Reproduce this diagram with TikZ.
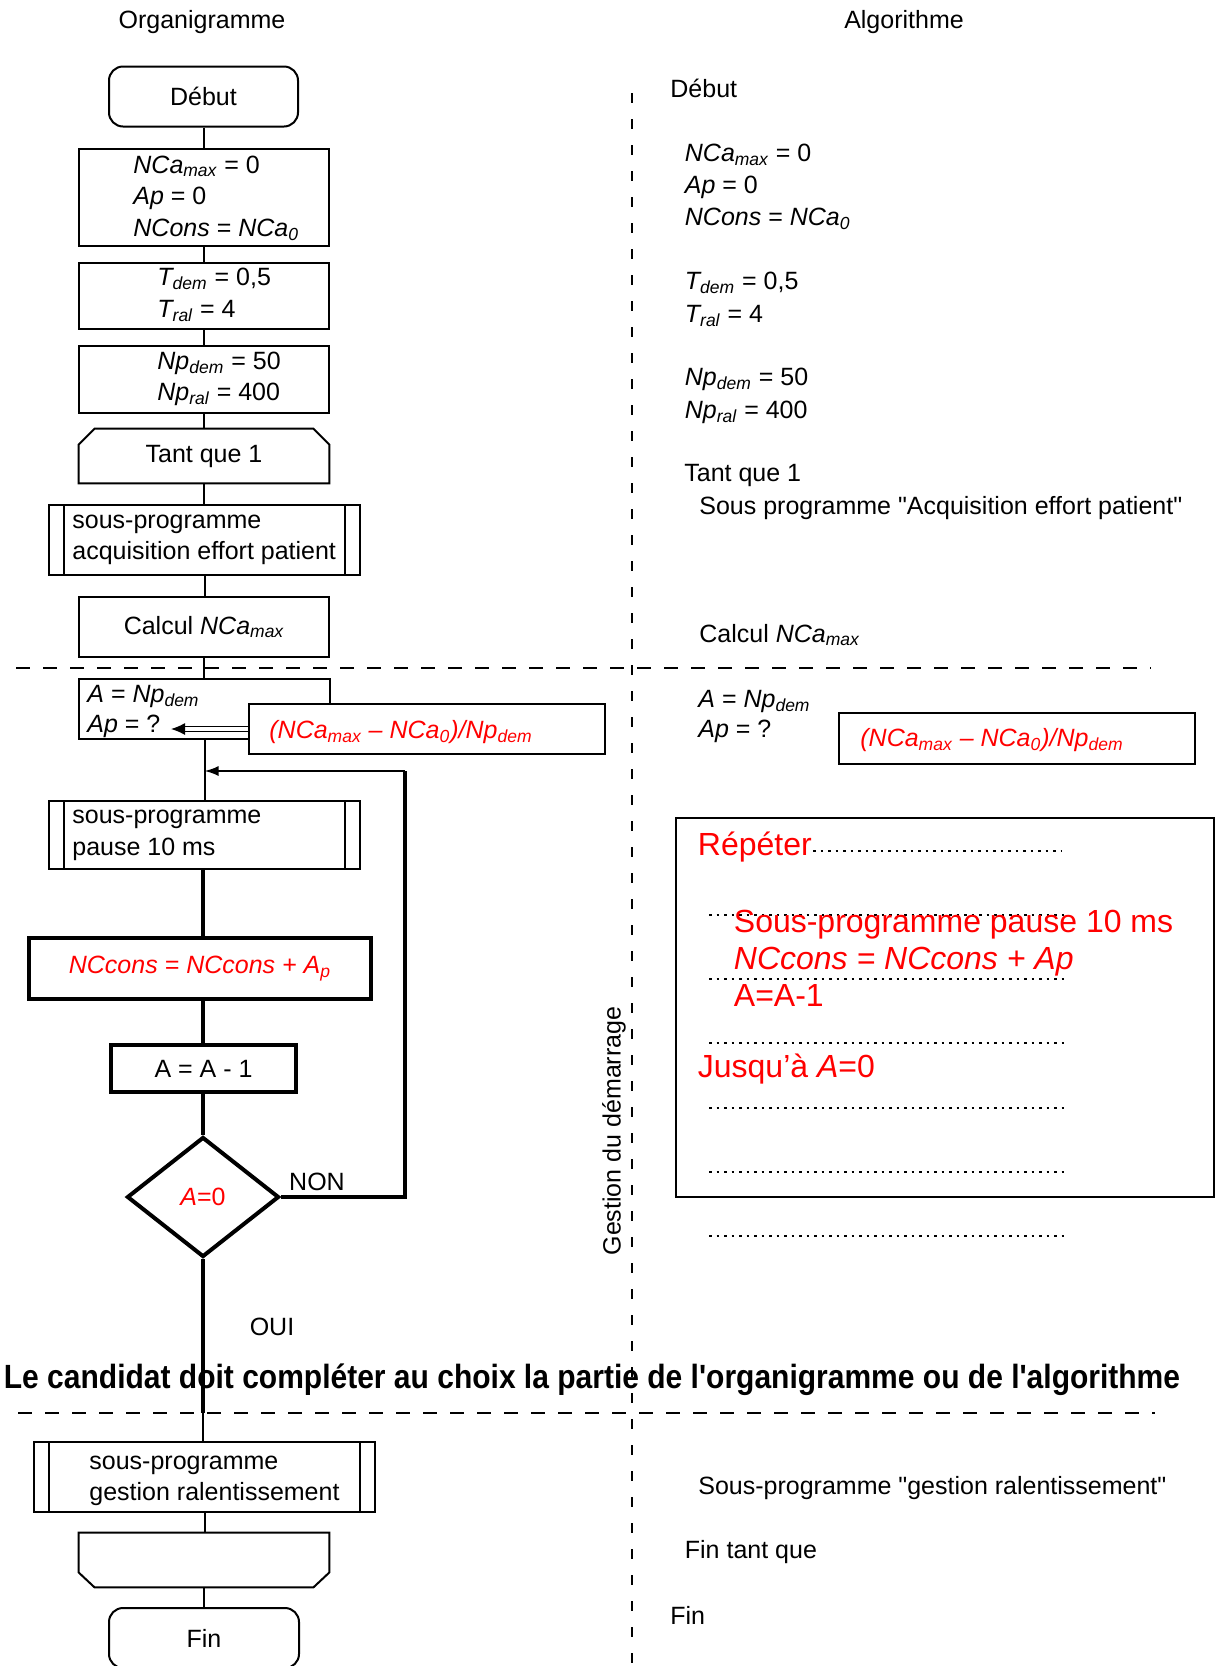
\documentclass[tikz,border=0pt]{standalone}
\usepackage{graphicx}
\usepackage{fontspec}
\setmainfont{Liberation Sans}
\usetikzlibrary{shapes.geometric,arrows.meta}

\newcommand{\vsub}[2]{\textit{#1\textsubscript{#2}}}

\begin{document}
\begin{tikzpicture}[x=0.5pt,y=-0.5pt,
    every node/.style={font=\fontsize{12.5}{16}\selectfont, inner sep=0pt},
    box/.style={draw, line width=1pt, fill=white},
    boxg/.style={box, line width=2pt},
    txt/.style={anchor=west, align=left},
    liaison/.style={line width=1pt},
    liaisong/.style={line width=2pt},
    coupure/.style={line width=1pt, dash pattern=on 7pt off 6.5pt},
    coupurev/.style={line width=1pt, dash pattern=on 5pt off 8pt},
    pointilles/.style={line width=1.3pt, dash pattern=on 1.3pt off 2.45pt},
    rouge/.style={text=red},
    grand/.style={font=\fontsize{16}{18.5}\selectfont, text=red}]

  \useasboundingbox (0,0) rectangle (1222,1666);

  \node (torg) at (202,22) {Organigramme};
  \node (talgo) at (904,22) {Algorithme};

  % organigramme
  \node[box, rounded corners=7pt, minimum width=94.5pt, minimum height=30pt] (debut) at (203.5,96.5) {Début};
  \node[box, minimum width=125pt, minimum height=48.5pt] (init) at (204,197.5) {};
  \node[txt, font=\fontsize{12.5}{15.75}\selectfont] (initt) at (133,198) {\vsub{NCa}{max} = 0\\\textit{Ap} = 0\\\textit{NCons} = \vsub{NCa}{0}};
  \node[box, minimum width=125pt, minimum height=33pt] (tempo) at (204,296) {};
  \node[txt] (tempot) at (157,295) {\vsub{T}{dem} = 0,5\\\vsub{T}{ral} = 4};
  \node[box, minimum width=125pt, minimum height=33.5pt] (pas) at (204,379.5) {};
  \node[txt, font=\fontsize{12.5}{15.5}\selectfont] (past) at (157,378.5) {\vsub{Np}{dem} = 50\\\vsub{Np}{ral} = 400};
  \node[minimum width=125pt, minimum height=27pt] (tq) at (204,456) {Tant que 1};
  \draw[line width=1pt] (tq.south west) -- ([yshift=-8pt]tq.north west) -- ([xshift=8pt]tq.north west)
    -- ([xshift=-8pt]tq.north east) -- ([yshift=-8pt]tq.north east) -- (tq.south east) -- cycle;
  \node[box, minimum width=155.5pt, minimum height=35pt] (acq) at (204.5,540) {};
  \node[txt, font=\fontsize{12.5}{15.5}\selectfont] (acqt) at (72,540) {sous-programme\\acquisition effort patient};
  \node[box, minimum width=125pt, minimum height=30pt] (calcul) at (204,627) {Calcul \vsub{NCa}{max}};
  \node[box, minimum width=125.5pt, minimum height=30pt] (anp) at (204.5,709) {};
  \node[txt, font=\fontsize{12.5}{15}\selectfont] (anpt) at (87,711) {\textit{A} = \vsub{Np}{dem}\\\textit{Ap} = ?};
  \node[box, minimum width=178pt, minimum height=25pt] (formule) at (427,729) {};
  \node[txt, rouge] (formulet) at (269,732) {\textit{(NCa\textsubscript{max} – NCa\textsubscript{0})/Np\textsubscript{dem}}};
  \coordinate (apq) at (171,729);
  \draw[line width=0.6pt, double, double distance=1.8pt, -{Latex[length=7pt,width=6pt]}] (formule.west) -- (apq);

  \node[box, minimum width=155.5pt, minimum height=34pt] (pause) at (204.5,835) {};
  \node[txt] (pauset) at (72,835) {sous-programme\\pause 10 ms};
  \node[boxg, minimum width=171pt, minimum height=30.5pt, rouge] (nccons) at (200,968.5) {\textit{NCcons = NCcons + A\textsubscript{p}}};
  \node[boxg, minimum width=92.5pt, minimum height=23.5pt] (decr) at (203.5,1068.5) {A = A - 1};
  \node[boxg, diamond, minimum width=76pt, minimum height=60pt, rouge] (test) at (203,1197) {\textit{A}=0};
  \node (non) at (317,1182) {NON};
  \node (oui) at (272,1327) {OUI};

  \node[box, minimum width=170.5pt, minimum height=35pt] (gest) at (204.5,1477) {};
  \node[txt, font=\fontsize{12.5}{15.5}\selectfont] (gestt) at (89,1481) {sous-programme\\gestion ralentissement};
  \node[minimum width=125pt, minimum height=27pt] (fb) at (204,1560) {};
  \draw[line width=1pt] (fb.north west) -- ([yshift=7.5pt]fb.south west) -- ([xshift=8pt]fb.south west)
    -- ([xshift=-8pt]fb.south east) -- ([yshift=7.5pt]fb.south east) -- (fb.north east) -- cycle;
  \node[box, rounded corners=7pt, minimum width=95pt, minimum height=30pt] (fin) at (204,1638) {Fin};

  \foreach \n in {acq,pause,gest}{
    \draw[line width=1pt] ([xshift=8pt]\n.north west) -- ([xshift=8pt]\n.south west);
    \draw[line width=1pt] ([xshift=-8pt]\n.north east) -- ([xshift=-8pt]\n.south east);
  }

  \foreach \a/\b in {debut/init,init/tempo,tempo/pas,pas/tq,tq/acq,acq/calcul,calcul/anp,anp/pause,gest/fb,fb/fin}
    \draw[liaison] (\a.south) -- (\a.south |- \b.north);
  \foreach \a/\b in {pause/nccons,nccons/decr,decr/test}
    \draw[liaisong] (\a.south -| test.north) -- (\b.north -| test.north);

  \coordinate (coupe) at (203,1413);
  \coordinate (retour) at (405,771);
  \draw[liaisong] (test.south) -- (coupe);
  \draw[liaison] (coupe) -- (coupe |- gest.north);
  \draw[liaisong] (test.east) -| (retour);
  \draw[liaison, -{Latex[length=7pt,width=5pt]}] (retour) -- (retour -| anp.south);

  % separations
  \draw[coupure] (16,668) -- (1151,668);
  \draw[coupure] (18,1413) -- (1155,1413);
  \draw[coupurev] (632,93) -- (632,1666);
  \node[rotate=90] (gestdem) at (614,1131) {Gestion du démarrage};

  % algorithme
  \node[txt] (adebut) at (670,88) {Début};
  \node[txt] (ainit) at (684.5,187) {\vsub{NCa}{max} = 0\\\textit{Ap} = 0\\\textit{NCons} = \vsub{NCa}{0}};
  \node[txt, font=\fontsize{12.5}{16.5}\selectfont] (atempo) at (684.5,299.5) {\vsub{T}{dem} = 0,5\\\vsub{T}{ral} = 4};
  \node[txt, font=\fontsize{12.5}{16.5}\selectfont] (apas) at (684.5,395.5) {\vsub{Np}{dem} = 50\\\vsub{Np}{ral} = 400};
  \node[txt] (atq) at (684,475) {Tant que 1};
  \node[txt] (aacq) at (699,508) {Sous programme \textquotedbl Acquisition effort patient\textquotedbl};
  \node[txt] (acalcul) at (699,635) {Calcul \vsub{NCa}{max}};
  \node[txt, font=\fontsize{12.5}{15}\selectfont] (aanp) at (698,716) {\textit{A} = \vsub{Np}{dem}\\\textit{Ap} = ?};
  \node[box, line width=1.2pt, minimum width=178pt, minimum height=25.5pt] (aformule) at (1017,738.5) {};
  \node[txt, rouge] (aformulet) at (860,740) {\textit{(NCa\textsubscript{max} – NCa\textsubscript{0})/Np\textsubscript{dem}}};

  \node[draw, line width=1.2pt, minimum width=269pt, minimum height=189.5pt] (repeter) at (945,1007.5) {};
  \draw[pointilles] (813,851) -- (1061,851);
  \foreach \y in {915,979,1043,1108,1172,1236}
    \draw[pointilles] (709,\y) -- (1066,\y);
  \node[txt, grand] (arep) at (697.5,847) {Répéter};
  \node[txt, grand] (acorps) at (733.5,958) {Sous-programme pause 10 ms\\\textit{NCcons = NCcons + Ap}\\A=A-1};
  \node[txt, grand] (ajusq) at (697.5,1069) {Jusqu’à \textit{A}=0};

  \node[txt] (agest) at (698,1488) {Sous-programme \textquotedbl gestion ralentissement\textquotedbl};
  \node[txt] (aftq) at (684.5,1552) {Fin tant que};
  \node[txt] (afin) at (670,1615) {Fin};

  \node[font=\bfseries\fontsize{15}{18}\selectfont] (consigne) at (592,1380)
    {\scalebox{1}[1.12]{Le candidat doit compléter au choix la partie de l\textquotesingle organigramme ou de l\textquotesingle algorithme}};
\end{tikzpicture}
\end{document}
